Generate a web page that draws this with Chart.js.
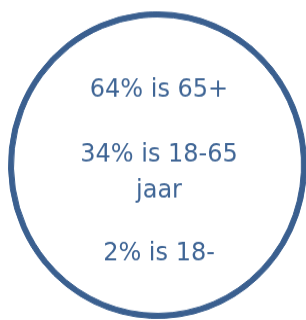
<!DOCTYPE html>
<html>
<head>
<meta charset="utf-8">
<script src="https://cdn.jsdelivr.net/npm/chart.js@4/dist/chart.umd.min.js"></script>
<style>
  html, body { margin: 0; padding: 0; background: #fff; overflow: hidden; }
  /* circle in the reference is a little taller than wide */
  #canvas { display: block; width: 312px; height: 320px; }
</style>
</head>
<body>
<canvas id="canvas" width="312" height="311" style="width:312px;height:320px"></canvas>
<script>
// data
const shares = [64, 34, 2];
const groups = ["65+", "18-65 jaar", "18-"];

const ringColor = "#3a5f8f";
const textColor = "#3f6595";

// lines of text inside the circle, "jaar" wraps onto its own line
const textLines = [
  { text: shares[0] + "% is " + groups[0], y: 94.3 },
  { text: shares[1] + "% is " + groups[1].split(" ")[0], y: 156.5 },
  { text: groups[1].split(" ")[1], y: 192.4 },
  { text: shares[2] + "% is " + groups[2], y: 252.7 },
];

const centerText = {
  id: "centerText",
  afterDraw(chart) {
    const ctx = chart.ctx;
    const arc = chart.getDatasetMeta(0).data[0];
    ctx.save();
    ctx.fillStyle = textColor;
    ctx.font = "24px 'Century Gothic', 'DejaVu Sans', sans-serif";
    ctx.textAlign = "center";
    ctx.textBaseline = "alphabetic";
    textLines.forEach(function (line) {
      ctx.fillText(line.text, arc.x + 1.5, line.y);
    });
    ctx.restore();
  },
};

// config
const config = {
  type: "doughnut",
  data: {
    labels: groups,
    datasets: [
      {
        data: shares,
        backgroundColor: ringColor,
        borderColor: ringColor,
        borderWidth: 1,
        hoverOffset: 0,
        spacing: 0,
      },
    ],
  },
  options: {
    responsive: false,
    animation: false,
    cutout: 144,
    layout: {
      padding: { left: 8, right: 5, top: 11, bottom: 1 },
    },
    plugins: {
      legend: { display: false },
      tooltip: { enabled: false },
    },
  },
  plugins: [centerText],
};

// render init block
const myChart = new Chart(document.getElementById("canvas"), config);
</script>
</body>
</html>
